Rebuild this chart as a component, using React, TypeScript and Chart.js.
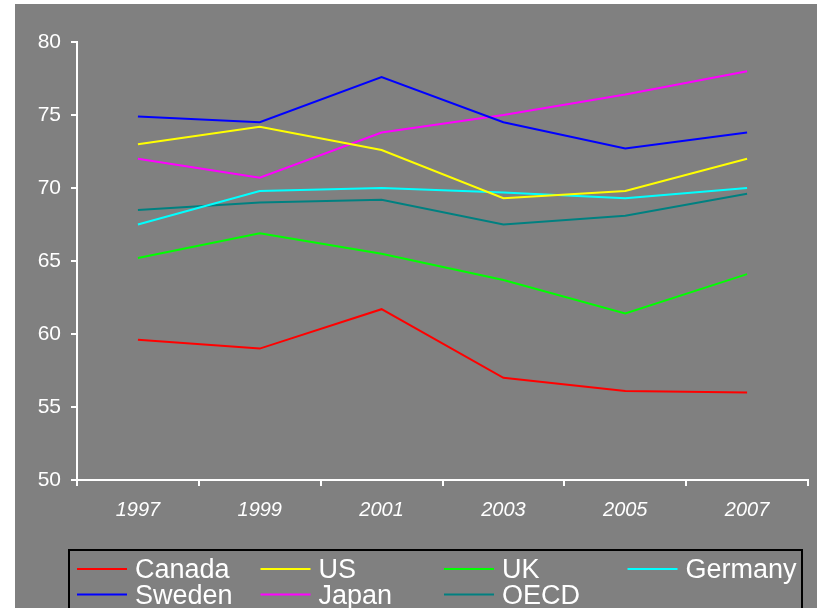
import React, { useEffect, useRef } from 'react';
import { Chart, registerables } from 'chart.js';

Chart.register(...registerables);

const years = ['1997', '1999', '2001', '2003', '2005', '2007'];
const canada = [59.6, 59.0, 61.7, 57.0, 56.1, 56.0];
const us = [73.0, 74.2, 72.6, 69.3, 69.8, 72.0];
const uk = [65.2, 66.9, 65.5, 63.7, 61.4, 64.1];
const germany = [67.5, 69.8, 70.0, 69.7, 69.3, 70.0];
const sweden = [74.9, 74.5, 77.6, 74.5, 72.7, 73.8];
const japan = [72.0, 70.7, 73.8, 75.0, 76.4, 78.0];
const oecd = [68.5, 69.0, 69.2, 67.5, 68.1, 69.6];

const FONT = '"Liberation Sans", Arial, sans-serif';

// legend in a black box, four entries per row
const boxLegend = {
    id: 'boxLegend',
    afterDraw(chart: any) {
        const ctx = chart.ctx;
        ctx.save();
        ctx.strokeStyle = '#000';
        ctx.lineWidth = 2;
        ctx.strokeRect(54, 546, 733, 80);
        ctx.font = `27px ${FONT}`;
        ctx.textBaseline = 'middle';
        ctx.textAlign = 'left';
        chart.data.datasets.forEach((ds: any, i: number) => {
            const x = 62 + (i % 4) * 183.5;
            const y = 565 + Math.floor(i / 4) * 25.6;
            ctx.strokeStyle = ds.borderColor;
            ctx.lineWidth = 2;
            ctx.beginPath();
            ctx.moveTo(x, y);
            ctx.lineTo(x + 50, y);
            ctx.stroke();
            ctx.fillStyle = '#fff';
            ctx.fillText(ds.label, x + 58, y + 2);
        });
        ctx.restore();
    },
};

const App: React.FC = () => {
    const canvasRef = useRef<HTMLCanvasElement>(null);

    useEffect(() => {
        if (!canvasRef.current) return;
        const series: [string, number[], string][] = [
            ['Canada', canada, '#ff0000'],
            ['US', us, '#ffff00'],
            ['UK', uk, '#00ff00'],
            ['Germany', germany, '#00ffff'],
            ['Sweden', sweden, '#0000ff'],
            ['Japan', japan, '#ff00ff'],
            ['OECD', oecd, '#008080'],
        ];
        const chart = new Chart(canvasRef.current, {
            type: 'line',
            data: {
                labels: years,
                datasets: series.map(([label, data, color]) => ({
                    label,
                    data,
                    borderColor: color,
                    backgroundColor: color,
                    borderWidth: 2,
                    pointRadius: 0,
                    tension: 0,
                    fill: false,
                })),
            },
            options: {
                responsive: false,
                animation: false,
                layout: { padding: { top: 38, right: 9, left: 0, bottom: 0 } },
                plugins: { legend: { display: false }, tooltip: { enabled: false } },
                scales: {
                    x: {
                        offset: true,
                        afterFit: (s: any) => { s.height = 128; },
                        grid: { offset: true, drawOnChartArea: false, drawTicks: true, tickLength: 6, color: '#fff', lineWidth: 2 },
                        border: { display: true, color: '#fff', width: 2 },
                        ticks: { color: '#fff', padding: 12, maxRotation: 0, font: { family: FONT, size: 20, style: 'italic' } },
                    },
                    y: {
                        min: 50,
                        max: 80,
                        afterFit: (s: any) => { s.width = 62; },
                        grid: { drawOnChartArea: false, drawTicks: true, tickLength: 6, color: '#fff', lineWidth: 2 },
                        border: { display: true, color: '#fff', width: 2 },
                        ticks: { stepSize: 5, color: '#fff', padding: 10, font: { family: FONT, size: 21 } },
                    },
                },
            },
            plugins: [boxLegend],
        });
        return () => chart.destroy();
    }, []);

    return (
        <div style={{ position: 'fixed', left: 0, top: 0, width: 817, height: 608, background: '#fff', overflow: 'hidden' }}>
            <div style={{ position: 'absolute', left: 15, top: 4, width: 802, height: 604, background: '#808080' }}>
                <canvas ref={canvasRef} width={802} height={604} style={{ display: 'block' }}></canvas>
            </div>
        </div>
    );
};

export default App;
